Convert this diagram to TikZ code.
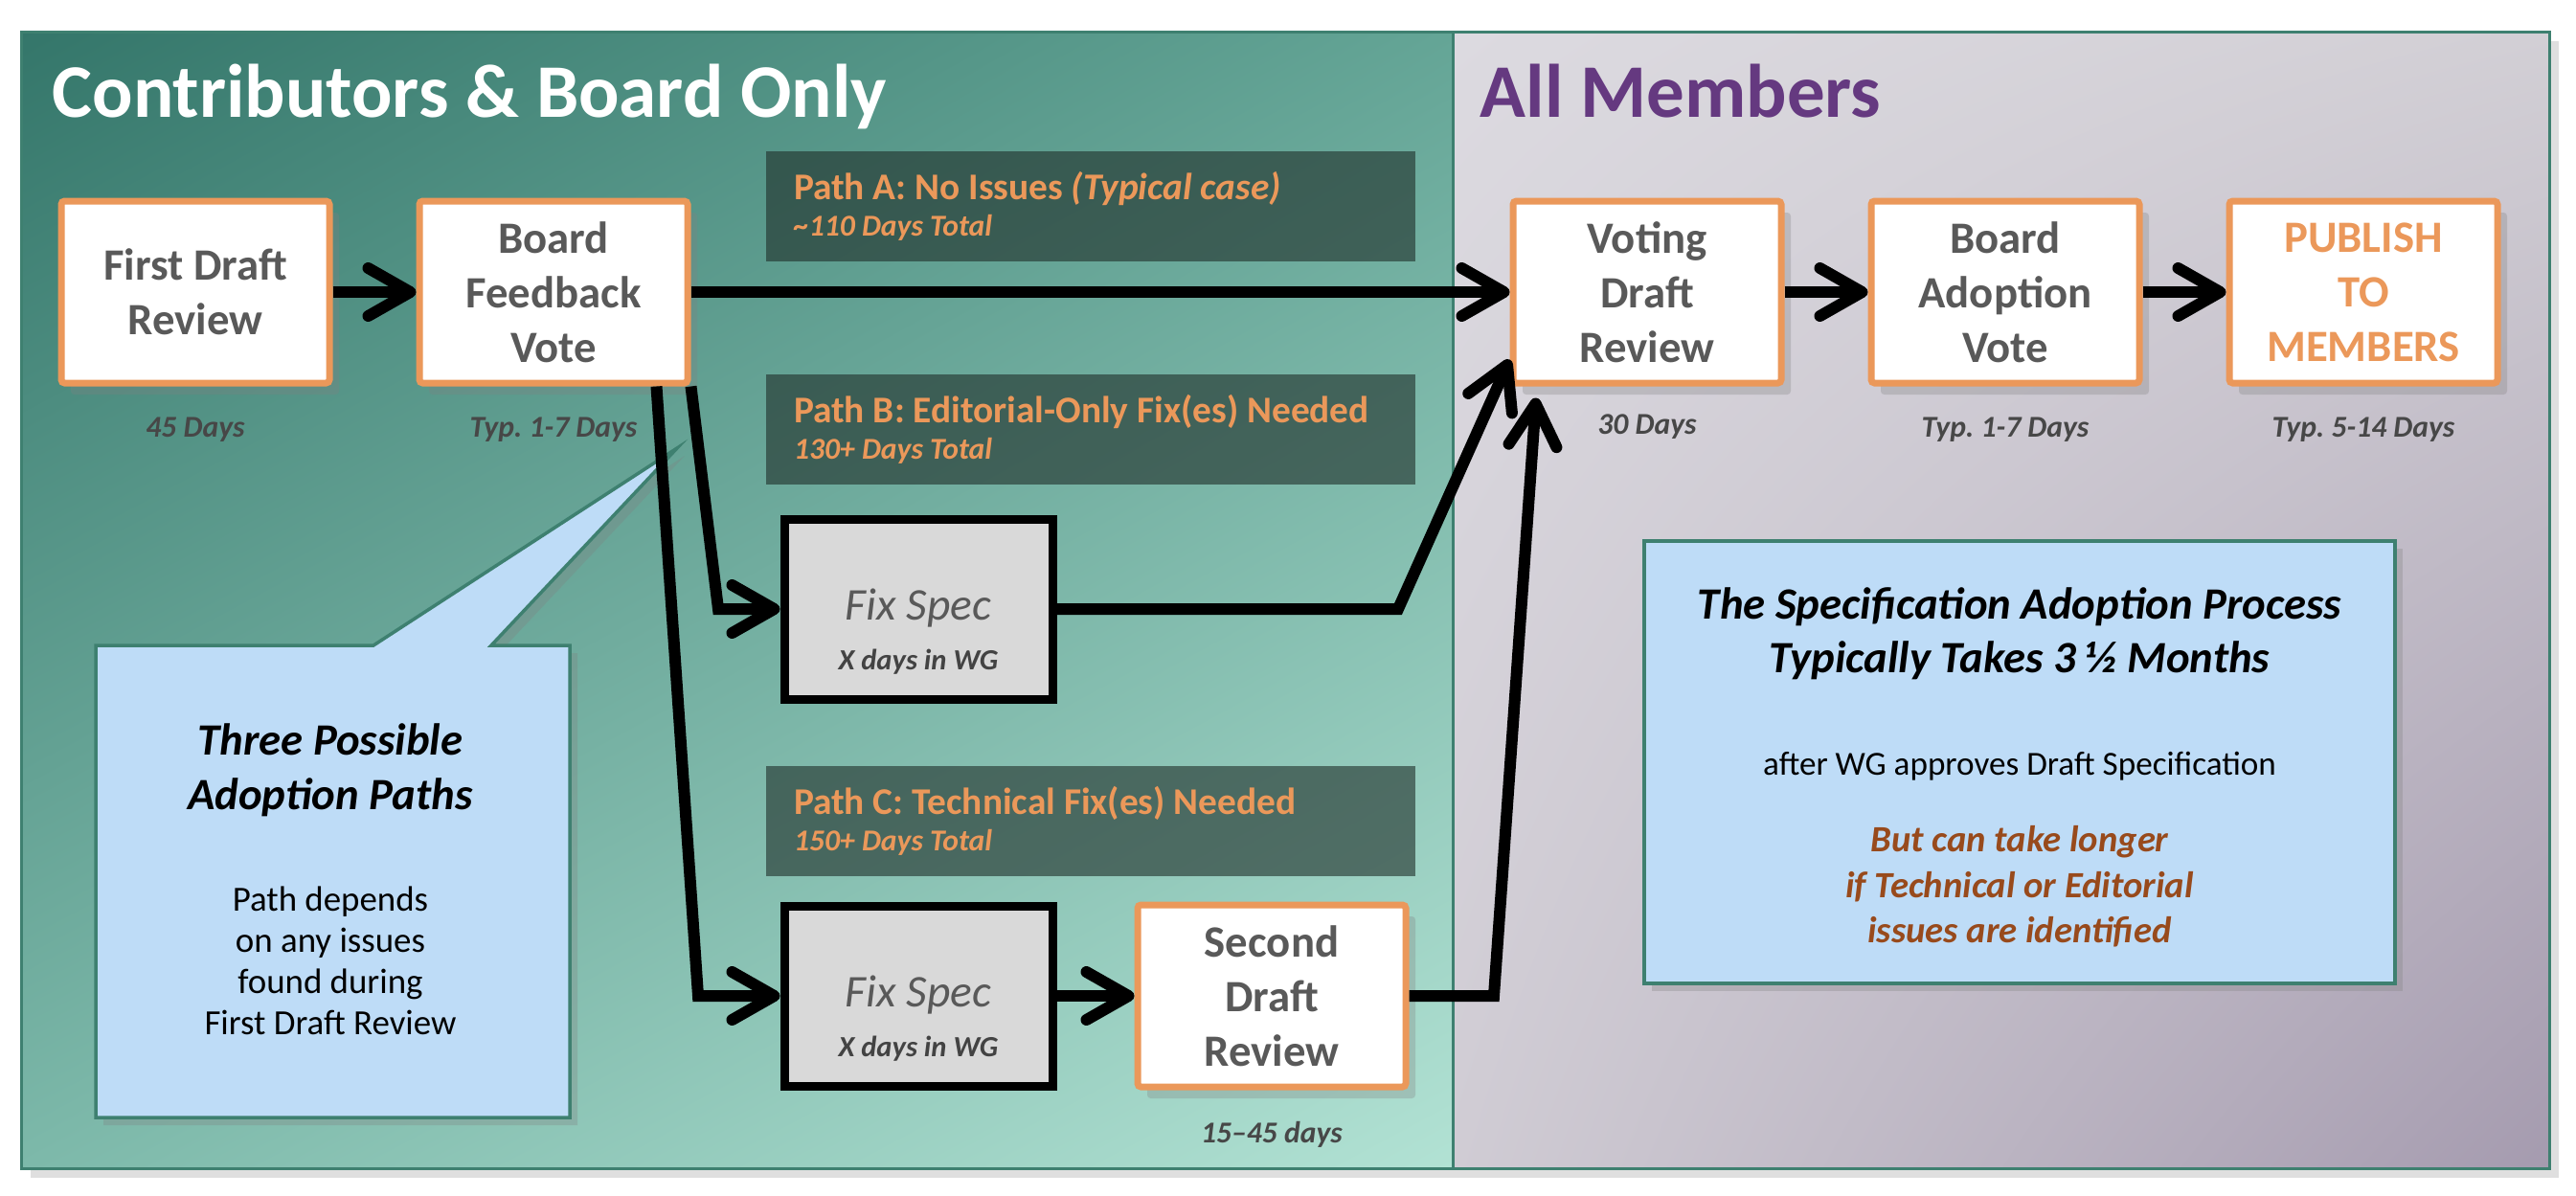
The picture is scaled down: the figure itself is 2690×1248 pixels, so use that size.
\documentclass[tikz,border=0pt]{standalone}
\usepackage{fontspec}
\setmainfont{Carlito}
\frenchspacing
\definecolor{panelEdge}{RGB}{62,128,112}
\definecolor{stepOrange}{RGB}{235,152,90}
\definecolor{stepText}{RGB}{89,89,89}
\definecolor{noteBlue}{RGB}{190,220,247}
\definecolor{fixGray}{RGB}{217,217,217}
\definecolor{memberPurple}{RGB}{101,57,128}
\definecolor{noteBrown}{RGB}{152,74,28}
\definecolor{bannerInk}{RGB}{30,45,40}
\definecolor{tealUL}{RGB}{52,118,106}
\definecolor{tealUR}{RGB}{100,165,150}
\definecolor{tealLL}{RGB}{125,185,170}
\definecolor{tealLR}{RGB}{178,226,212}
\definecolor{greyUL}{RGB}{220,218,224}
\definecolor{greyUR}{RGB}{210,207,213}
\definecolor{greyLL}{RGB}{208,204,212}
\definecolor{greyLR}{RGB}{165,155,175}
\usetikzlibrary{arrows.meta,positioning,shadows,shadings}

\begin{document}
\begin{tikzpicture}[x=0.1mm, y=-0.1mm, every node/.style={inner sep=0pt},
    stepbox/.style={rectangle, rounded corners=1pt, draw=stepOrange, line width=0.7mm, fill=white, minimum width=28mm, minimum height=19mm, align=center, text=stepText, font=\fontsize{13.3}{16.2}\selectfont\bfseries, drop shadow={shadow xshift=1mm, shadow yshift=-1.2mm, opacity=0.3}},
    fixbox/.style={rectangle, draw=black, line width=0.9mm, fill=fixGray, minimum width=28mm, minimum height=18.8mm, align=center, text=stepText},
    banner/.style={rectangle, fill=bannerInk, fill opacity=0.6, text opacity=1, minimum width=67.8mm, minimum height=11.5mm, text width=62mm, align=flush left, text=stepOrange, font=\fontsize{11.2}{10.8}\selectfont\bfseries},
    daytag/.style={text=stepText!80!black, font=\fontsize{9}{11}\selectfont\bfseries\itshape},
    notebox/.style={rectangle, fill=noteBlue, draw=panelEdge, line width=0.35mm, drop shadow={shadow xshift=0.8mm, shadow yshift=-0.8mm, opacity=0.3}},
    flow/.style={line width=1.2mm, -{Straight Barb[length=4.4mm, width=5mm, round]}}]

    \useasboundingbox (0,0) rectangle (2690,1248);
    \fill[white] (0,0) rectangle (2690,1248);

    % two panels
    \path[drop shadow={shadow xshift=1mm, shadow yshift=-1mm, opacity=0.25}] (22,33) rectangle (2662,1220);
    \shade[upper left=tealUL, upper right=tealUR, lower left=tealLL, lower right=tealLR] (22,33) rectangle (1517,1220);
    \shade[upper left=greyUL, upper right=greyUR, lower left=greyLL, lower right=greyLR] (1517,33) rectangle (2662,1220);
    \draw[panelEdge, line width=0.3mm] (22,33) rectangle (2662,1220);
    \draw[panelEdge, line width=0.3mm] (1517,33) -- (1517,1220);

    \node[anchor=base west, text=white, font=\fontsize{22.5}{27}\selectfont\bfseries] (leftTitle) at (54,122) {Contributors \& Board Only};
    \node[anchor=base west, text=memberPurple, font=\fontsize{22.5}{27}\selectfont\bfseries] (rightTitle) at (1545,122) {All Members};

    % path banners
    \node[banner] (pathA) at (1139,215) {Path A: No Issues \textit{(Typical case)}\\{\fontsize{9}{10}\selectfont\itshape\textasciitilde110 Days Total}};
    \node[banner] (pathB) at (1139,448) {Path B: Editorial-Only Fix(es) Needed\\{\fontsize{9}{10}\selectfont\itshape 130+ Days Total}};
    \node[banner] (pathC) at (1139,857) {Path C: Technical Fix(es) Needed\\{\fontsize{9}{10}\selectfont\itshape 150+ Days Total}};

    % callout
    \coordinate (calloutTip) at (707,468);
    \draw[fill=noteBlue, draw=panelEdge, line width=0.35mm, drop shadow={shadow xshift=0.8mm, shadow yshift=-0.8mm, opacity=0.3}] (100,674) -- (390,674) -- (calloutTip) -- (513,674) -- (595,674) -- (595,1167) -- (100,1167) -- cycle;
    \node[align=center, font=\fontsize{10.5}{12.2}\selectfont] (calloutText) at (345,918) {{\fontsize{13.3}{16}\selectfont\bfseries\itshape Three Possible}\\[4pt]{\fontsize{13.3}{16}\selectfont\bfseries\itshape Adoption Paths}\\[18pt]Path depends\\on any issues\\found during\\First Draft Review};

    % main steps
    \node[stepbox] (first) at (204,305) {First Draft\\Review};
    \node[stepbox, right=8.7mm of first] (board) {Board\\Feedback\\Vote};
    \node[stepbox] (voting) at (1720,305) {Voting\\Draft\\Review};
    \node[stepbox, right=8.7mm of voting] (adoption) {Board\\Adoption\\Vote};
    \node[stepbox, right=8.7mm of adoption, text=stepOrange] (publish) {PUBLISH\\TO\\MEMBERS};

    \node[fixbox] (fixB) at (959,636) {\rule{0pt}{8mm}{\fontsize{13.5}{15}\selectfont\itshape Fix Spec}\\[1mm]{\color{stepText!75!black}\fontsize{8.7}{10}\selectfont\bfseries\itshape X days in WG}};
    \node[fixbox] (fixC) at (959,1040) {\rule{0pt}{8mm}{\fontsize{13.5}{15}\selectfont\itshape Fix Spec}\\[1mm]{\color{stepText!75!black}\fontsize{8.7}{10}\selectfont\bfseries\itshape X days in WG}};
    \node[stepbox, right=8.1mm of fixC] (second) {Second\\Draft\\Review};

    \node[daytag, below=3.2mm of first] (firstDays) {45 Days};
    \node[daytag, below=3.2mm of board] (boardDays) {Typ. 1-7 Days};
    \node[daytag, below=2.9mm of voting] (votingDays) {30 Days};
    \node[daytag, below=3.2mm of adoption] (adoptionDays) {Typ. 1-7 Days};
    \node[daytag, below=3.2mm of publish] (publishDays) {Typ. 5-14 Days};
    \node[daytag, below=3.2mm of second] (secondDays) {15--45 days};

    \node[notebox, minimum width=78.4mm, minimum height=46.2mm, align=center, font=\fontsize{10}{13.6}\selectfont] (summary) at (2109,796) {\rule{0pt}{4.4mm}{\fontsize{13.3}{16}\selectfont\bfseries\itshape The Specification Adoption Process}\\[2.3pt]{\fontsize{13.3}{16}\selectfont\bfseries\itshape Typically Takes 3 ½ Months}\\[17pt]after WG approves Draft Specification\\[9pt]{\color{noteBrown}\fontsize{11}{13}\selectfont\bfseries\itshape But can take longer}\\{\color{noteBrown}\fontsize{11}{13}\selectfont\bfseries\itshape if Technical or Editorial}\\{\color{noteBrown}\fontsize{11}{13}\selectfont\bfseries\itshape issues are identified}};

    % connectors
    \coordinate (bendB) at (750,636);
    \coordinate (riseB) at (1460,636);
    \coordinate (voteB) at ([yshift=2.8mm]voting.south west);
    \coordinate (startC) at ([xshift=-3.6mm]board.south east);
    \coordinate (bendC) at (729,1040);
    \coordinate (riseC) at (1560,1040);
    \coordinate (voteC) at ([xshift=-11.6mm,yshift=-1.2mm]voting.south);

    \draw[flow] (first) -- (board);
    \draw[flow] (board) -- (voting);
    \draw[flow] (voting) -- (adoption);
    \draw[flow] (adoption) -- (publish);
    \draw[flow] (board.south east) -- (bendB) -- (fixB);
    \draw[flow] (fixB) -- (riseB) -- (voteB);
    \draw[flow] (startC) -- (bendC) -- (fixC);
    \draw[flow] (fixC) -- (second);
    \draw[flow] (second) -- (riseC) -- (voteC);
\end{tikzpicture}
\end{document}
